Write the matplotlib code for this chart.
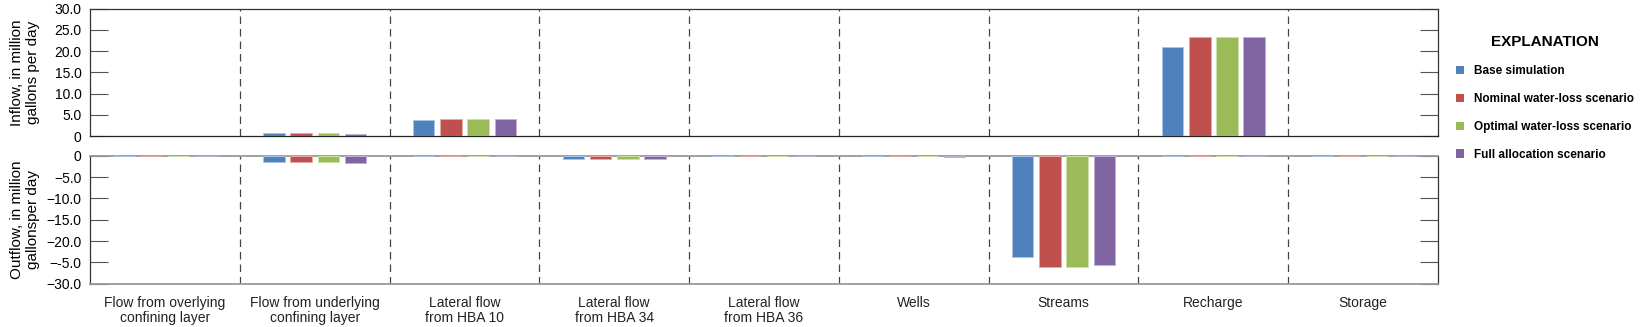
import numpy as np
import matplotlib.pyplot as plt

categories = ["Flow from overlying\nconfining layer", "Flow from underlying\nconfining layer",
              "Lateral flow\nfrom HBA 10", "Lateral flow\nfrom HBA 34", "Lateral flow\nfrom HBA 36",
              "Wells", "Streams", "Recharge", "Storage"]
series = ["Base simulation", "Nominal water-loss scenario",
          "Optimal water-loss scenario", "Full allocation scenario"]
colors = ["#4F81BD", "#C0504D", "#9BBB59", "#8064A2"]
edges = ["#A9C4E6", "#E6A9A7", "#CDE0A8", "#BFB0D6"]

# inflow values, one list per series (million gallons per day)
inflow_base = [0, 0.7, 3.8, 0, 0.1, 0, 0, 21.0, 0]
inflow_nominal = [0, 0.7, 3.9, 0, 0.1, 0, 0, 23.4, 0]
inflow_optimal = [0, 0.7, 3.9, 0, 0.1, 0, 0, 23.4, 0]
inflow_full = [0, 0.5, 3.9, 0, 0.1, 0, 0, 23.4, 0]

# outflow values
outflow_base = [0, -1.5, 0, -0.7, -0.1, 0, -23.8, 0, 0]
outflow_nominal = [0, -1.5, 0, -0.7, -0.1, 0, -26.2, 0, 0]
outflow_optimal = [0, -1.5, 0, -0.7, -0.1, 0, -26.2, 0, 0]
outflow_full = [0, -1.7, 0, -0.7, -0.1, -0.3, -25.5, 0, 0]

inflow = [inflow_base, inflow_nominal, inflow_optimal, inflow_full]
outflow = [outflow_base, outflow_nominal, outflow_optimal, outflow_full]

top_ticks = [0, 5, 10, 15, 20, 25, 30]
top_labels = ["0", "5.0", "10.0", "15.0", "20.0", "25.0", "30.0"]
bot_ticks = [0, -5, -10, -15, -20, -25, -30]
bot_labels = ["0", "\u22125.0", "\u221210.0", "\u221215.0", "\u221220.0", "\u2212-5.0", "\u221230.0"]

plt.rcParams['font.family'] = ['Liberation Sans', 'DejaVu Sans']

fig = plt.figure(figsize=(16.42, 3.27), dpi=100)
ax1 = fig.add_axes([0.0548, 0.584, 0.821, 0.390])
ax2 = fig.add_axes([0.0548, 0.1324, 0.821, 0.3914])

x = np.arange(len(categories))
width = 0.144
step = 0.182
offsets = (np.arange(4) - 1.5) * step

for i in range(4):
    ax1.bar(x + offsets[i], inflow[i], width, color=colors[i], edgecolor=edges[i],
            linewidth=0.7, label=series[i], zorder=3)
    ax2.bar(x + offsets[i], outflow[i], width, color=colors[i], edgecolor=edges[i],
            linewidth=0.7, zorder=3)

for ax, ticks, labels, lim in [(ax1, top_ticks, top_labels, (0, 30)),
                               (ax2, bot_ticks, bot_labels, (-30, 0))]:
    ax.set_xlim(-0.5, len(categories) - 0.5)
    ax.set_ylim(*lim)
    ax.set_yticks(ticks)
    ax.set_yticklabels(labels, fontsize=10)
    ax.tick_params(axis='y', direction='in', length=13, width=0.8, color='#555555',
                   right=True, pad=6)
    for sep in np.arange(0.5, len(categories) - 1, 1):
        ax.axvline(sep, color='#444444', linestyle=(0, (6, 4)), linewidth=0.9, zorder=1)
    for s in ax.spines.values():
        s.set_color('#333333')
        s.set_linewidth(0.9)

ax1.set_xticks([])
ax1.spines['bottom'].set_color('#222222')
ax2.spines['top'].set_color('#999999')
ax2.spines['bottom'].set_color('#999999')
ax2.spines['top'].set_linewidth(1.3)
ax2.spines['bottom'].set_linewidth(1.3)
ax2.set_xticks(x)
ax2.set_xticklabels(categories, fontsize=10, linespacing=1.1, color='#222222')
ax2.tick_params(axis='x', length=0, pad=9)

ax1.set_ylabel("Inflow, in million\ngallons per day", fontsize=11, linespacing=1.15)
ax2.set_ylabel("Outflow, in million\ngallonsper day", fontsize=11, linespacing=1.15)
ax1.yaxis.set_label_coords(-0.037, 0.5)
ax2.yaxis.set_label_coords(-0.037, 0.5)

leg = fig.legend(loc='upper left', bbox_to_anchor=(0.880, 0.925), frameon=False,
                 title="EXPLANATION", handlelength=0.75, handleheight=0.75,
                 handletextpad=0.8, labelspacing=1.35,
                 prop={'weight': 'bold', 'size': 8.5})
leg.get_title().set_fontweight('bold')
leg.get_title().set_fontsize(11)
for h in leg.legend_handles:
    h.set_linewidth(0)

fig.savefig("out.png", dpi=100)
